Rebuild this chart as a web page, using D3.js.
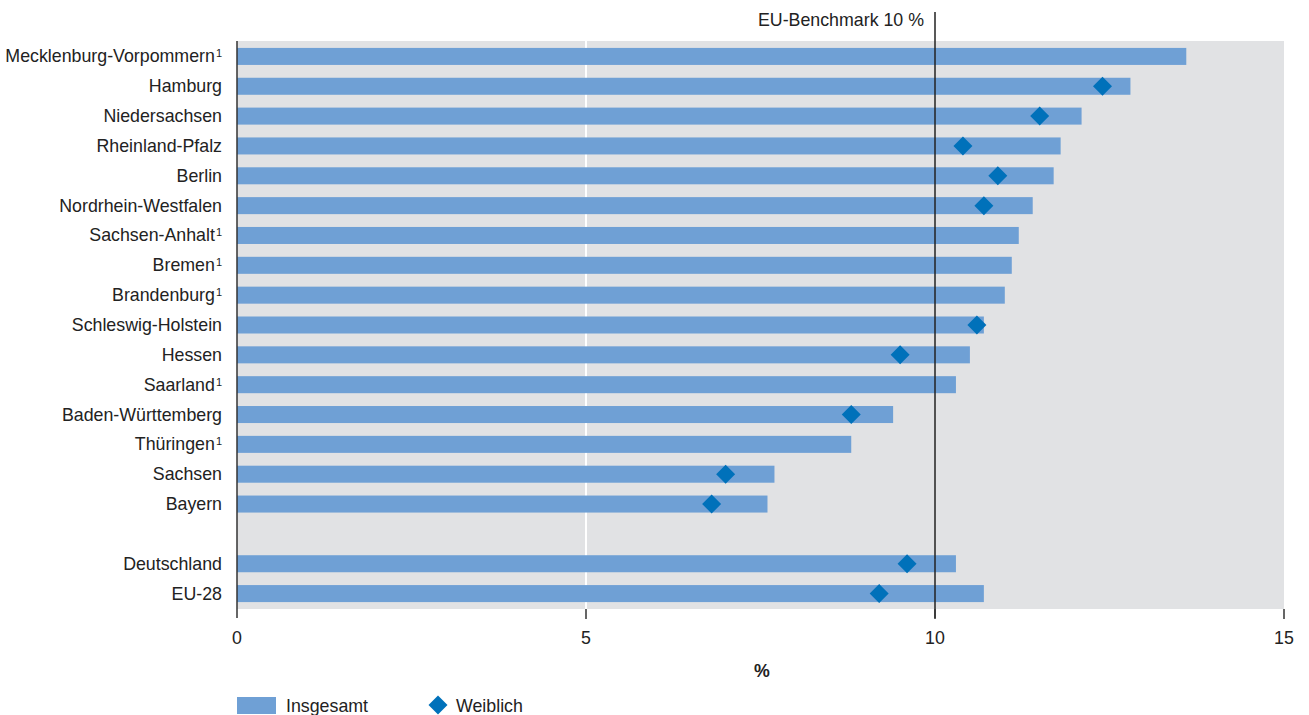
<!DOCTYPE html>
<html><head><meta charset="utf-8">
<script src="https://cdn.jsdelivr.net/npm/d3@7"></script>
<style>
body{margin:0;background:#fff;}
svg text{font-family:"Liberation Sans",Arial,sans-serif;fill:#222;}
</style></head>
<body>
<svg id="chart" width="1309" height="715"></svg>
<script>
const categories = ["Mecklenburg-Vorpommern","Hamburg","Niedersachsen","Rheinland-Pfalz","Berlin","Nordrhein-Westfalen","Sachsen-Anhalt","Bremen","Brandenburg","Schleswig-Holstein","Hessen","Saarland","Baden-Württemberg","Thüringen","Sachsen","Bayern","","Deutschland","EU-28"];
const footnote = [true,false,false,false,false,false,true,true,true,false,false,true,false,true,false,false,false,false,false];
const insgesamt = [13.6,12.8,12.1,11.8,11.7,11.4,11.2,11.1,11.0,10.7,10.5,10.3,9.4,8.8,7.7,7.6,null,10.3,10.7];
const weiblich  = [null,12.4,11.5,10.4,10.9,10.7,null,null,null,10.6,9.5,null,8.8,null,7.0,6.8,null,9.6,9.2];
const xTicks = [0,5,10,15];
const benchmark = 10;
const benchmarkLabel = "EU-Benchmark 10 %";
const axisTitle = "%";
const legendLabels = ["Insgesamt","Weiblich"];

const FS = 17.8;
const barColor = "#6fa0d5", diaColor = "#0071ba", bgColor = "#e1e2e4", axisColor = "#333";
const svg = d3.select("#chart");
const x = d3.scaleLinear().domain([0,15]).range([237,1284]);
const y = d3.scaleBand().domain(categories.map((c,i)=>i)).range([41.5,608.5]).paddingInner(0.43).paddingOuter(0.215);

// background
svg.append("rect").attr("x",x(0)).attr("y",41).attr("width",x(15)-x(0)).attr("height",568).attr("fill",bgColor);
// white gridline at 5
svg.append("line").attr("x1",x(5)).attr("x2",x(5)).attr("y1",41).attr("y2",609).attr("stroke","#fff").attr("stroke-width",2);

// bars
const rows = categories.map((c,i)=>({c,i,v:insgesamt[i],w:weiblich[i],fn:footnote[i]}));
svg.selectAll("rect.bar").data(rows.filter(d=>d.v!=null)).join("rect").attr("class","bar")
  .attr("x",x(0)).attr("y",d=>y(d.i)).attr("width",d=>x(d.v)-x(0)).attr("height",y.bandwidth()).attr("fill",barColor);

// benchmark line
svg.append("line").attr("x1",x(benchmark)).attr("x2",x(benchmark)).attr("y1",12).attr("y2",618).attr("stroke","#222").attr("stroke-width",1.5);
svg.append("text").attr("x",x(benchmark)-11).attr("y",26).attr("text-anchor","end").attr("font-size",FS).text(benchmarkLabel);

// diamonds
const ds = 9.5;
svg.selectAll("path.dia").data(rows.filter(d=>d.w!=null)).join("path").attr("class","dia")
  .attr("transform",d=>`translate(${x(d.w)},${y(d.i)+y.bandwidth()/2})`)
  .attr("d",`M0,${-ds}L${ds},0L0,${ds}L${-ds},0Z`).attr("fill",diaColor);

// y axis line
svg.append("line").attr("x1",x(0)).attr("x2",x(0)).attr("y1",41).attr("y2",618).attr("stroke",axisColor).attr("stroke-width",1.5);

// category labels
const lab = svg.selectAll("text.cat").data(rows.filter(d=>d.c)).join("text").attr("class","cat")
  .attr("x",222).attr("y",d=>y(d.i)+y.bandwidth()/2+6).attr("text-anchor","end").attr("font-size",FS);
lab.append("tspan").text(d=>d.c);
lab.filter(d=>d.fn).append("tspan").attr("font-size",11).attr("dx",1).attr("dy",-5).text("1");

// x axis ticks
const xa = svg.append("g");
xTicks.forEach(t=>{
  if(t>0) xa.append("line").attr("x1",x(t)).attr("x2",x(t)).attr("y1",609).attr("y2",619).attr("stroke",axisColor).attr("stroke-width",1.5);
  xa.append("text").attr("x",x(t)).attr("y",644).attr("text-anchor","middle").attr("font-size",FS).text(t);
});
svg.append("text").attr("x",762).attr("y",677).attr("text-anchor","middle").attr("font-size",FS).attr("font-weight","bold").text(axisTitle);

// legend
svg.append("rect").attr("x",237).attr("y",697).attr("width",39).attr("height",17).attr("fill",barColor);
svg.append("text").attr("x",286).attr("y",712).attr("font-size",FS).text(legendLabels[0]);
svg.append("path").attr("transform","translate(438,705)").attr("d",`M0,${-ds}L${ds},0L0,${ds}L${-ds},0Z`).attr("fill",diaColor);
svg.append("text").attr("x",456).attr("y",712).attr("font-size",FS).text(legendLabels[1]);
</script>
</body></html>
